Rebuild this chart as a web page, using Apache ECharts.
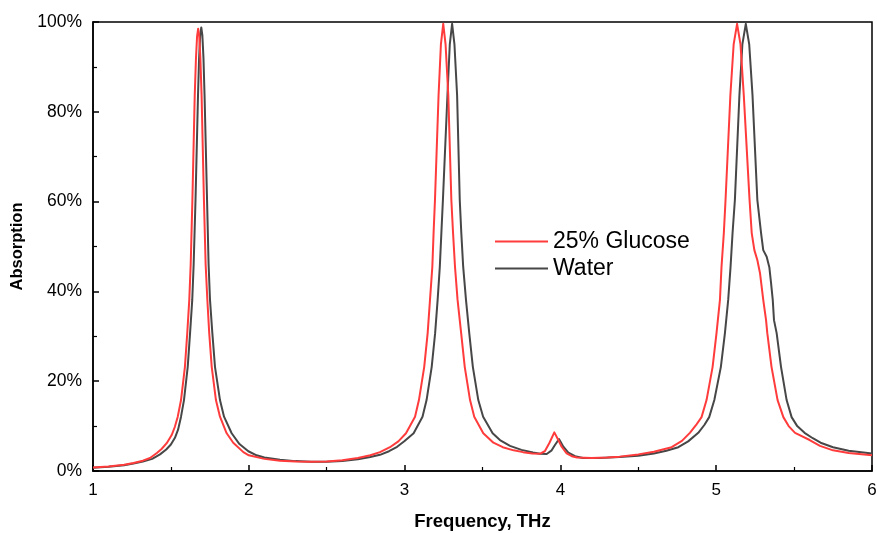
<!DOCTYPE html>
<html>
<head>
<meta charset="utf-8">
<style>
  html, body { margin: 0; padding: 0; background: #ffffff; }
  #chart { width: 877px; height: 533px; }
</style>
<script src="https://cdn.jsdelivr.net/npm/echarts@6/dist/echarts.min.js"></script>
</head>
<body>
<div id="chart"></div>
<script>
// Absorption spectra (percent) versus frequency (THz)
const glucoseFreq = [
  1.00, 1.10, 1.20, 1.26, 1.32, 1.366, 1.41, 1.44, 1.473, 1.505, 1.525, 1.544, 1.565, 1.590, 1.605, 1.618,
  1.627, 1.638, 1.653, 1.661, 1.668, 1.675, 1.682, 1.689, 1.697, 1.712, 1.723, 1.734, 1.746, 1.762, 1.789,
  1.815, 1.858, 1.90, 1.965, 2.00, 2.10, 2.20, 2.30, 2.40, 2.50, 2.60, 2.70, 2.78, 2.842, 2.906, 2.96,
  3.009, 3.067, 3.092, 3.126, 3.148, 3.163, 3.178, 3.186, 3.195, 3.218, 3.233, 3.248, 3.263, 3.2805,
  3.300, 3.311, 3.3235, 3.340, 3.363, 3.386, 3.420, 3.447, 3.505, 3.57, 3.63, 3.70, 3.76, 3.82, 3.87,
  3.90, 3.93, 3.961, 3.985, 4.008, 4.040, 4.073, 4.107, 4.20, 4.30, 4.38, 4.50, 4.60, 4.714, 4.78, 4.831,
  4.87, 4.906, 4.938, 4.977, 5.002, 5.024, 5.034, 5.049, 5.060, 5.091, 5.112, 5.134, 5.156, 5.177, 5.214,
  5.228, 5.245, 5.264, 5.281, 5.302, 5.320, 5.328, 5.355, 5.394, 5.431, 5.465, 5.506, 5.60, 5.666, 5.75,
  5.85, 6.00
];
const glucoseAbs = [
  0.8, 1.0, 1.4, 1.8, 2.3, 2.9, 4.0, 4.9, 6.2, 8.0, 9.8, 12.1, 15.8, 23.2, 30.7, 38.1,
  46.0, 60.4, 83.7, 92.0, 96.8, 98.5, 96.8, 92.0, 83.7, 60.4, 46.0, 38.1, 30.7, 23.2, 15.8,
  12.1, 8.4, 6.3, 4.2, 3.5, 2.7, 2.3, 2.1, 2.05, 2.1, 2.4, 2.9, 3.5, 4.2, 5.3, 6.6,
  8.4, 12.1, 15.8, 23.2, 30.7, 38.1, 45.5, 53.0, 60.4, 83.7, 95.0, 99.6, 95.0, 83.7,
  60.4, 53.0, 45.5, 38.1, 30.7, 23.2, 15.8, 12.1, 8.4, 6.3, 5.3, 4.6, 4.2, 3.9, 3.85,
  4.4, 6.3, 8.6, 7.0, 5.4, 3.9, 3.3, 3.0, 2.9, 3.0, 3.2, 3.7, 4.3, 5.3, 6.7, 8.5,
  10.2, 12.0, 15.8, 23.2, 30.7, 38.1, 45.4, 53.0, 60.4, 83.7, 95.0, 99.6, 95.0, 83.7, 60.4,
  53.0, 49.2, 47.0, 44.1, 38.1, 33.6, 30.7, 23.2, 15.8, 12.0, 10.0, 8.5, 6.9, 5.6, 4.6,
  4.0, 3.5
];

const waterFreq = [
  1.00, 1.10, 1.20, 1.26, 1.32, 1.38, 1.43, 1.47, 1.50, 1.526, 1.546, 1.565, 1.584, 1.608, 1.623, 1.637,
  1.646, 1.658, 1.674, 1.681, 1.688, 1.695, 1.702, 1.709, 1.716, 1.732, 1.742, 1.751, 1.766, 1.783, 1.815,
  1.841, 1.890, 1.94, 1.997, 2.05, 2.10, 2.20, 2.30, 2.40, 2.50, 2.60, 2.70, 2.78, 2.842, 2.90, 2.952,
  3.00, 3.058, 3.115, 3.141, 3.174, 3.196, 3.212, 3.226, 3.236, 3.246, 3.275, 3.290, 3.305, 3.320, 3.337,
  3.354, 3.364, 3.376, 3.394, 3.415, 3.438, 3.473, 3.504, 3.565, 3.612, 3.6765, 3.75, 3.824, 3.87, 3.912,
  3.944, 3.965, 3.991, 4.019, 4.051, 4.094, 4.145, 4.25, 4.38, 4.50, 4.60, 4.68, 4.757, 4.82, 4.885,
  4.925, 4.955, 4.988, 5.030, 5.056, 5.077, 5.092, 5.105, 5.120, 5.149, 5.168, 5.190, 5.212, 5.233, 5.264,
  5.288, 5.302, 5.324, 5.341, 5.352, 5.363, 5.371, 5.388, 5.416, 5.452, 5.484, 5.52, 5.567, 5.62, 5.67,
  5.75, 5.85, 6.00
];
const waterAbs = [
  0.75, 0.95, 1.3, 1.65, 2.1, 2.7, 3.7, 4.8, 5.9, 7.4, 9.2, 12.1, 15.8, 23.2, 30.7, 38.1,
  46.0, 60.4, 83.7, 92.0, 97.0, 98.8, 97.0, 92.0, 83.7, 60.4, 46.0, 38.1, 30.7, 23.2, 15.8,
  12.1, 8.4, 6.0, 4.4, 3.5, 3.0, 2.5, 2.2, 2.05, 2.05, 2.25, 2.6, 3.1, 3.6, 4.4, 5.4,
  6.7, 8.4, 12.1, 15.8, 23.2, 30.7, 38.1, 45.5, 53.0, 60.4, 83.7, 95.0, 99.6, 95.0, 83.7,
  60.4, 53.0, 45.5, 38.1, 30.7, 23.2, 15.8, 12.1, 8.4, 6.9, 5.6, 4.7, 4.1, 3.85, 3.8,
  4.6, 5.8, 7.1, 5.4, 4.1, 3.3, 2.9, 2.9, 3.1, 3.4, 3.9, 4.5, 5.3, 6.6, 8.5,
  10.3, 12.0, 15.8, 23.2, 30.7, 38.1, 45.4, 53.0, 60.4, 83.7, 95.0, 99.6, 95.0, 83.7, 60.4,
  53.0, 49.2, 47.7, 45.4, 41.9, 38.1, 33.6, 30.7, 23.2, 15.8, 12.0, 10.0, 8.5, 7.3, 6.3,
  5.3, 4.5, 3.9
];

const seriesNames = ['25% Glucose', 'Water'];
const seriesColors = ['#ff3b3b', '#474747'];

const zip = (xs, ys) => xs.map((x, i) => [x, ys[i]]);

const font = 'Liberation Sans, Arial, sans-serif';
const chart = echarts.init(document.getElementById('chart'));

chart.setOption({
  animation: false,
  backgroundColor: '#ffffff',
  grid: {
    left: 93, right: 5, top: 22, bottom: 62,
    outerBoundsMode: 'none',
    containLabel: false,
    show: true, borderColor: '#000000', borderWidth: 1.5, backgroundColor: 'transparent'
  },
  legend: {
    data: seriesNames,
    orient: 'vertical',
    left: 495,
    top: 230,
    padding: 0,
    icon: 'rect',
    itemWidth: 53,
    itemHeight: 2,
    itemGap: 4,
    textStyle: { fontFamily: font, fontSize: 23, color: '#000000' }
  },
  xAxis: {
    type: 'value',
    min: 1, max: 6, interval: 1,
    name: 'Frequency, THz',
    nameLocation: 'middle',
    nameGap: 41,
    nameTextStyle: { fontFamily: font, fontSize: 18.5, fontWeight: 'bold', color: '#000000' },
    axisLine: { show: true, onZero: false, lineStyle: { color: '#000000', width: 1.5 } },
    axisTick: { show: true, inside: true, length: 6, lineStyle: { color: '#000000', width: 1.5 } },
    minorTick: { show: true, splitNumber: 2, length: 4, lineStyle: { color: '#000000', width: 1.2 } },
    axisLabel: { fontFamily: font, fontSize: 17, color: '#000000', margin: 11 },
    splitLine: { show: false }
  },
  yAxis: {
    type: 'value',
    min: 0, max: 100, interval: 20,
    name: 'Absorption',
    nameLocation: 'middle',
    nameGap: 64,
    nameRotate: 90,
    nameTextStyle: { fontFamily: font, fontSize: 16.5, fontWeight: 'bold', color: '#000000' },
    axisLine: { show: true, onZero: false, lineStyle: { color: '#000000', width: 1.5 } },
    axisTick: { show: true, inside: true, length: 6, lineStyle: { color: '#000000', width: 1.5 } },
    minorTick: { show: true, splitNumber: 2, length: 4, lineStyle: { color: '#000000', width: 1.2 } },
    axisLabel: { fontFamily: font, fontSize: 17.5, color: '#000000', margin: 11, formatter: '{value}%' },
    splitLine: { show: false }
  },
  series: [
    {
      name: seriesNames[1],
      type: 'line',
      data: zip(waterFreq, waterAbs),
      symbol: 'none',
      smooth: false,
      clip: false,
      lineStyle: { color: seriesColors[1], width: 2, join: 'round' },
      itemStyle: { color: seriesColors[1] },
      z: 2
    },
    {
      name: seriesNames[0],
      type: 'line',
      data: zip(glucoseFreq, glucoseAbs),
      symbol: 'none',
      smooth: false,
      clip: false,
      lineStyle: { color: seriesColors[0], width: 2, join: 'round' },
      itemStyle: { color: seriesColors[0] },
      z: 3
    }
  ]
});
</script>
</body>
</html>
